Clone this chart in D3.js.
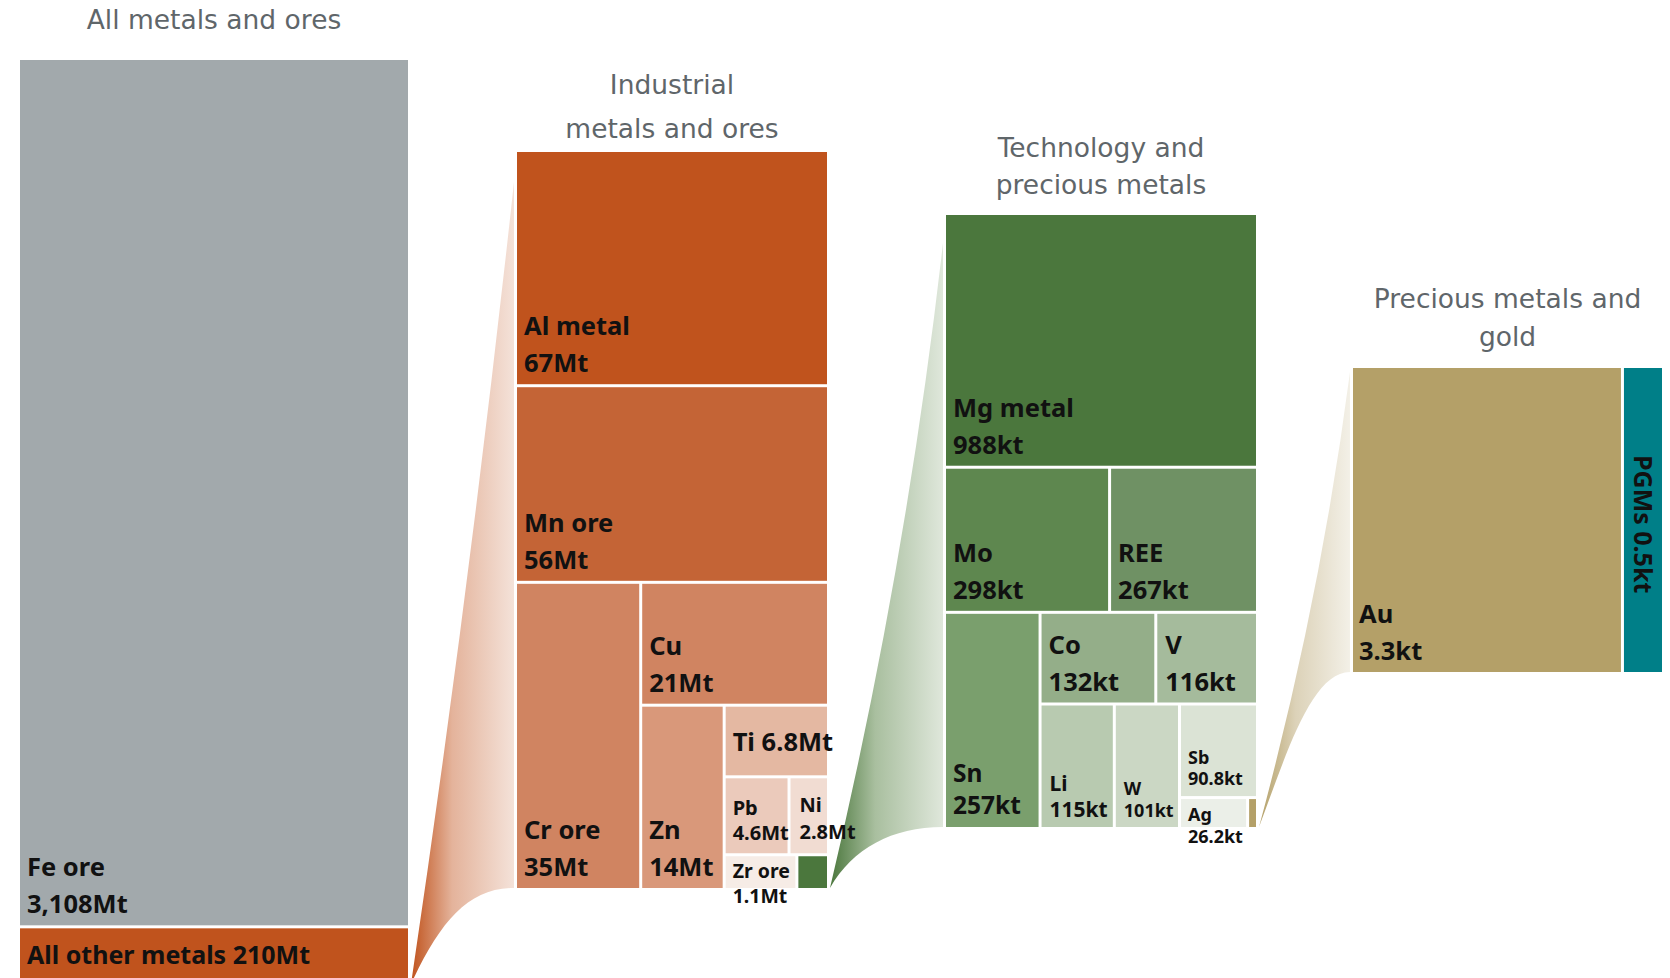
<!DOCTYPE html>
<html>
<head>
<meta charset="utf-8">
<title>Metals and ores treemap</title>
<script src="https://d3js.org/d3.v7.min.js"></script>
<style>
  body { margin: 0; background: #fff; overflow: hidden; }
  svg { display: block; font-family: "Noto Sans", "DejaVu Sans", sans-serif; }
  .title { font-family: "DejaVu Sans", sans-serif; font-size: 26.5px; fill: #5f666a; text-anchor: middle; }
  .lbl { font-weight: 700; fill: #111; }
</style>
</head>
<body>
<svg width="1670" height="978"></svg>
<script>
// All metals and ores (Mt)
const allNames = ["Fe ore", "All other metals"];
const allValues = [3108, 210];
const allLabels = ["3,108Mt", "210Mt"];

// Industrial metals and ores (Mt); Zr ore and the technology box sized as drawn
const indNames = ["Al metal", "Mn ore", "Cr ore", "Cu", "Zn", "Ti", "Pb", "Ni", "Zr ore", "Tech"];
const indValues = [67, 56, 35, 21, 14, 6.8, 4.6, 2.8, 2.3, 1.0];
const indLabels = ["67Mt", "56Mt", "35Mt", "21Mt", "14Mt", "6.8Mt", "4.6Mt", "2.8Mt", "1.1Mt", ""];

// Technology and precious metals (kt)
const techNames = ["Mg metal", "Mo", "REE", "Sn", "Co", "V", "Li", "W", "Sb", "Ag", "Precious"];
const techValues = [988, 298, 267, 257, 132, 116, 115, 101, 90.8, 26.2, 3.8];
const techLabels = ["988kt", "298kt", "267kt", "257kt", "132kt", "116kt", "115kt", "101kt", "90.8kt", "26.2kt", ""];

// Precious metals and gold (kt)
const precNames = ["Au", "PGMs"];
const precValues = [3.3, 0.5];
const precLabels = ["3.3kt", "0.5kt"];

// how the boxes nest inside each panel
const allNest = ["Fe ore", "All other metals"];
const indNest = ["Al metal", "Mn ore", ["Cr ore", ["Cu", ["Zn", ["Ti", ["Pb", "Ni"], ["Zr ore", "Tech"]]]]]];
const techNest = ["Mg metal", ["Mo", "REE"], ["Sn", [["Co", "V"], ["Li", "W", ["Sb", ["Ag", "Precious"]]]]]];
const precNest = [["Au", "PGMs"]];

const colors = {
  "Fe ore": "#a2a9ac", "All other metals": "#c0531d",
  "Al metal": "#c0531d", "Mn ore": "#c46436", "Cr ore": "#d08461", "Cu": "#d08461",
  "Zn": "#d9987a", "Ti": "#e4b8a2", "Pb": "#ebcabb", "Ni": "#f1dcd2", "Zr ore": "#f6ece6", "Tech": "#4b773d",
  "Mg metal": "#4b773d", "Mo": "#5e874f", "REE": "#6f9164", "Sn": "#7a9f6d", "Co": "#94ae89",
  "V": "#a5bb9c", "Li": "#b8cab0", "W": "#cbd7c4", "Sb": "#dbe3d5", "Ag": "#ebefe8", "Precious": "#b4a068",
  "Au": "#b4a068", "PGMs": "#007f88"
};

// label placement tweaks
const fmtDefault = {size: 25.5, gap: 37, bottom: 12, dx: 7, fill: "#111"};
const fmt = {
  "All other metals": {inline: true, fill: "#fff", top: 36, size: 25},
  "Ti": {inline: true, mid: 10},
  "Sn": {size: 24.5, gap: 32, bottom: 13},
  "Co": {bottom: 11},
  "V": {bottom: 11, dx: 8},
  "Pb": {size: 20, gap: 25, bottom: 13},
  "Ni": {size: 20, gap: 27, bottom: 14, dx: 9},
  "Zr ore": {size: 19.5, gap: 25, bottom: -15},
  "Li": {size: 21, gap: 26, bottom: 10, dx: 8},
  "W": {size: 18, gap: 22, bottom: 10, dx: 8},
  "Sb": {size: 18, gap: 21, bottom: 11},
  "Ag": {size: 18, gap: 22, bottom: -16},
  "Au": {fill: "#fff", dx: 6},
  "PGMs": {rotate: true, fill: "#fff", size: 25}
};

const panels = [
  {names: allNames, values: allValues, labels: allLabels, nest: allNest,
   box: [20, 60, 408, 984], title: ["All metals and ores"], titleY: [29]},
  {names: indNames, values: indValues, labels: indLabels, nest: indNest,
   box: [517, 152, 827, 888], title: ["Industrial", "metals and ores"], titleY: [94, 138]},
  {names: techNames, values: techValues, labels: techLabels, nest: techNest,
   box: [946, 215, 1256, 827], title: ["Technology and", "precious metals"], titleY: [157, 194]},
  {names: precNames, values: precValues, labels: precLabels, nest: precNest,
   box: [1353, 368, 1662, 672], title: ["Precious metals and", "gold"], titleY: [308, 346]}
];

const funnels = [
  {from: "All other metals", to: 1, top: 30, bow: 8, lower: [0.28, 0.64, 0.55],
   stops: ["#c0531d", "#e4b39b", "#f4e2d9"]},
  {from: "Tech", to: 2, top: 28, bow: 20, lower: [0.2, 0.65, 0.55],
   stops: ["#4b773d", "#a9bf9f", "#dfe7db"]},
  {from: "Precious", to: 3, top: 4, bow: 16, lower: [0.29, 0.45, 0.57],
   stops: ["#b4a068", "#dcd2b8", "#f3f0e7"]}
];

const svg = d3.select("svg");
const defs = svg.append("defs");
const funnelLayer = svg.append("g");
const boxLayer = svg.append("g");
const labelLayer = svg.append("g");

function buildTree(nest, lookup) {
  return {children: nest.map(n => Array.isArray(n) ? buildTree(n, lookup) : lookup(n))};
}

// alternate: even depth stacks vertically, odd depth side by side
function tileAlt(node, x0, y0, x1, y1) {
  (node.depth % 2 ? d3.treemapDice : d3.treemapSlice)(node, x0, y0, x1, y1);
}

const leafByName = {};

panels.forEach(p => {
  const [bx0, by0, bx1, by1] = p.box;
  const lookup = n => {
    const i = p.names.indexOf(n);
    return {name: n, value: p.values[i], label: p.labels[i]};
  };
  const root = d3.hierarchy(buildTree(p.nest, lookup))
    .sum(d => d.children ? 0 : d.value);
  d3.treemap().tile(tileAlt).size([bx1 - bx0, by1 - by0]).paddingInner(3)(root);

  const leaves = root.leaves();
  leaves.forEach(d => {
    d.ax0 = d.x0 + bx0; d.ax1 = d.x1 + bx0;
    d.ay0 = d.y0 + by0; d.ay1 = d.y1 + by0;
    leafByName[d.data.name] = d;
  });

  boxLayer.selectAll(null).data(leaves).join("rect")
    .attr("x", d => d.ax0).attr("y", d => d.ay0)
    .attr("width", d => d.ax1 - d.ax0).attr("height", d => d.ay1 - d.ay0)
    .attr("fill", d => colors[d.data.name]);

  p.title.forEach((t, i) => {
    svg.append("text").attr("class", "title")
      .attr("x", (bx0 + bx1) / 2).attr("y", p.titleY[i]).text(t);
  });

  leaves.filter(d => d.data.label).forEach(d => {
    const f = Object.assign({}, fmtDefault, fmt[d.data.name] || {});
    const name = d.data.name, val = d.data.label;
    if (f.rotate) {
      labelLayer.append("text").attr("class", "lbl")
        .attr("transform", "translate(" + ((d.ax0 + d.ax1) / 2 - 9) + "," + (d.ay0 + 87) + ") rotate(90)")
        .style("font-size", f.size + "px").attr("fill", f.fill)
        .text(name + " " + val);
      return;
    }
    if (f.inline) {
      const y = f.top != null ? d.ay0 + f.top : (d.ay0 + d.ay1) / 2 + f.mid;
      labelLayer.append("text").attr("class", "lbl")
        .attr("x", d.ax0 + f.dx).attr("y", y)
        .style("font-size", f.size + "px").attr("fill", f.fill)
        .text(name + " " + val);
      return;
    }
    const yb = d.ay1 - f.bottom;
    [name, val].forEach((t, i) => {
      labelLayer.append("text").attr("class", "lbl")
        .attr("x", d.ax0 + f.dx).attr("y", yb - (1 - i) * f.gap)
        .style("font-size", f.size + "px").attr("fill", f.fill)
        .text(t);
    });
  });
});

// funnels joining a small box to the next panel
funnels.forEach((f, k) => {
  const src = leafByName[f.from];
  const [tx0, ty0, , ty1] = panels[f.to].box;
  const sx = src.ax1 + 3, sy = src.ay1;
  const tx = tx0 - 3, tTop = ty0 + f.top;
  const w = tx - sx, h = sy - ty1;
  const [a, b, c] = f.lower;

  const grad = defs.append("linearGradient").attr("id", "fun" + k)
    .attr("x1", 0).attr("y1", 0).attr("x2", 1).attr("y2", 0);
  grad.selectAll("stop").data(f.stops).join("stop")
    .attr("offset", (s, i) => i === 0 ? "0%" : i === 1 ? "40%" : "100%")
    .attr("stop-color", s => s);

  const path = d3.path();
  path.moveTo(sx, sy);
  path.quadraticCurveTo((sx + tx) / 2 + f.bow, (sy + tTop) / 2, tx, tTop);
  path.lineTo(tx, ty1);
  path.bezierCurveTo(sx + c * w, ty1, sx + a * w, sy - b * h, sx, sy);
  path.closePath();

  funnelLayer.append("path").attr("d", path.toString()).attr("fill", "url(#fun" + k + ")");
});
</script>
</body>
</html>
